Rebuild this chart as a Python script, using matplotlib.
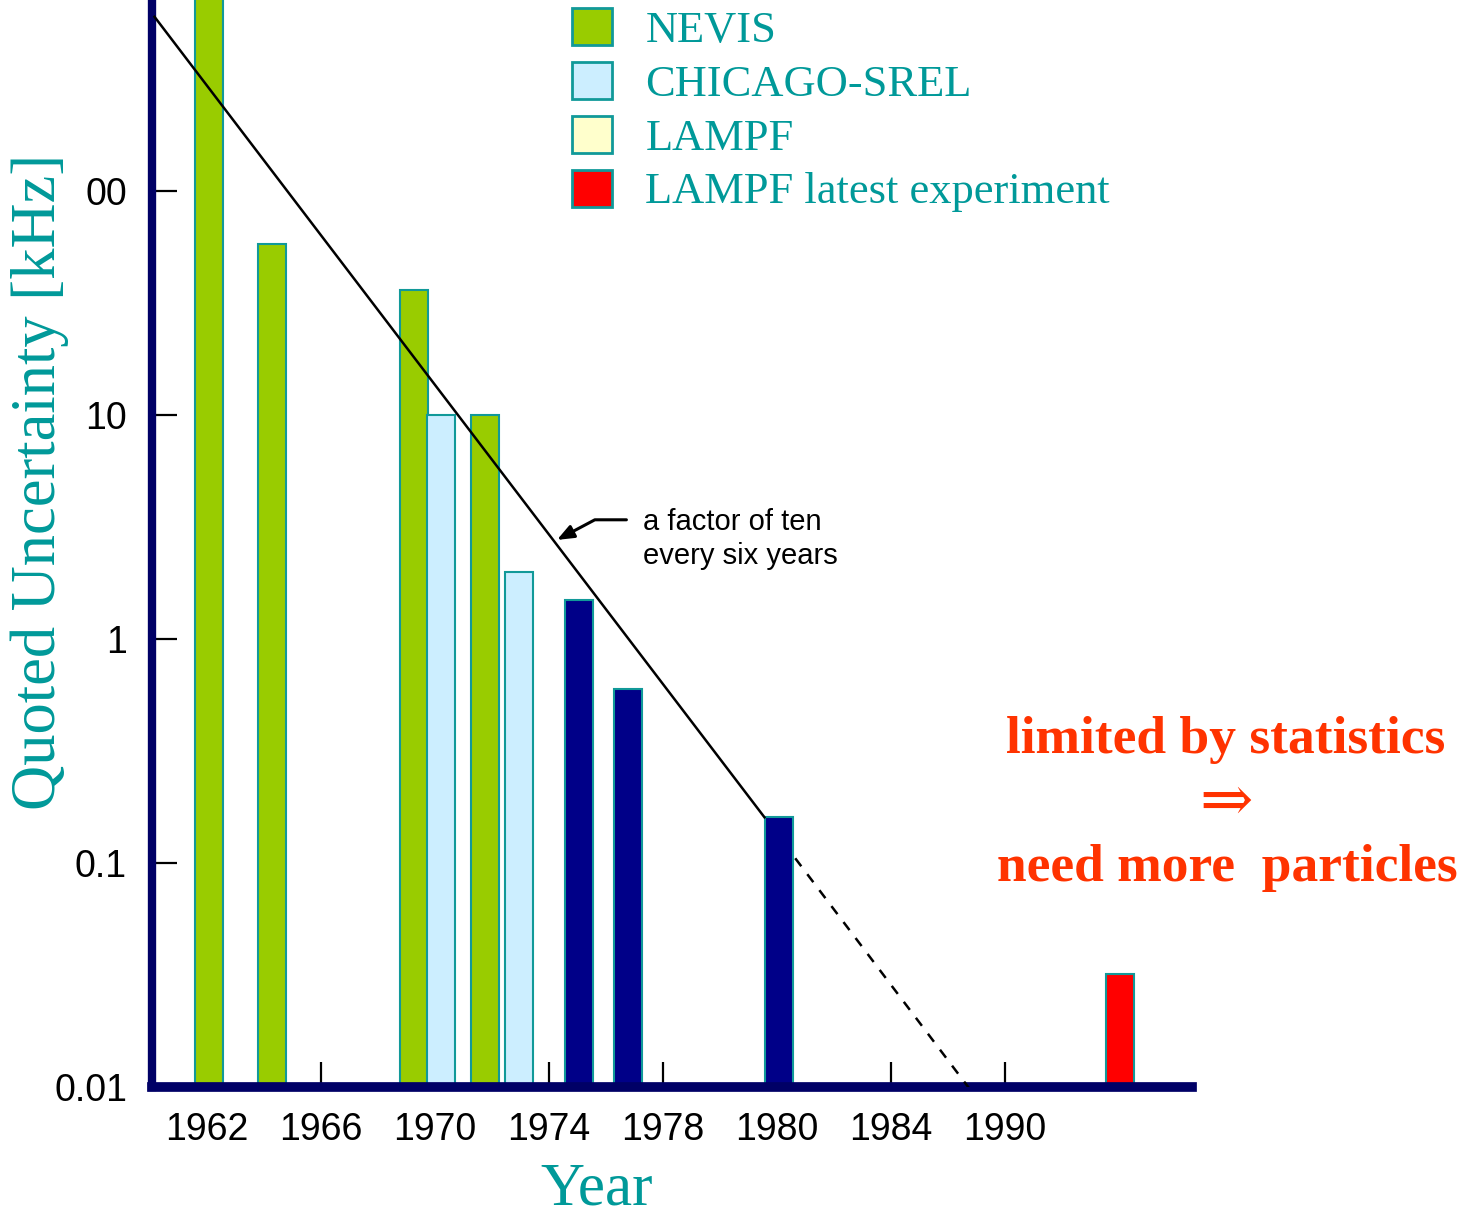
import matplotlib
matplotlib.use("Agg")
import matplotlib.pyplot as plt
from matplotlib import font_manager
from matplotlib.patches import Patch

# x axis is a slot axis: tick labels sit at evenly spaced slots, bars sit between them
year_labels = ["1962", "1966", "1970", "1974", "1978", "1980", "1984", "1990"]
year_slots = [0, 1, 2, 3, 4, 5, 6, 7]

nevis_x = [0.02, 0.57, 1.82, 2.44]
nevis_kHz = [1000, 58, 36, 10]
chicago_x = [2.05, 2.74]
chicago_kHz = [10, 2.0]
lampf_x = [3.26, 3.69, 5.02]
lampf_kHz = [1.5, 0.6, 0.16]
latest_x = [8.01]
latest_kHz = [0.032]

# "a factor of ten every six years" trend, solid then extrapolated
trend_x = [-0.46, 4.89]
trend_kHz = [600, 0.16]
extrap_x = [5.16, 6.71]
extrap_kHz = [0.105, 0.0095]

ytick_vals = [0.01, 0.1, 1, 10, 100]
ytick_labels = ["0.01", "0.1", "1", "10", "00"]   # the "1" of 100 is cut off in the scan

legend_labels = ["NEVIS", "CHICAGO-SREL", "LAMPF", "LAMPF latest experiment"]
legend_colors = ["#99cc00", "#cceeff", "#ffffcc", "#ff0000"]

TEAL = "#009999"
NAVY = "#000066"
EDGE = "#119999"

have = {f.name for f in font_manager.fontManager.ttflist}
narrow = "Liberation Sans Narrow" in have
sans_tick = "Liberation Sans Narrow" if narrow else "Liberation Sans"
tick_size = 31 if narrow else 27
serif = ["Liberation Serif", "DejaVu Serif"]

fig = plt.figure(figsize=(14.74, 12.19), dpi=100, facecolor="white")
W, H = 1474, 1219
ax = fig.add_axes([152 / W, 1 - 1087 / H, (1192 - 152) / W, 1087 / H])
ax.set_yscale("log")
ax.set_xlim(-0.482, 8.64)
ax.set_ylim(0.01, 713)
ax.set_axisbelow(True)

bw = 0.245
ax.bar(nevis_x, nevis_kHz, width=bw, color=legend_colors[0], edgecolor=EDGE, lw=1.5)
ax.bar(chicago_x, chicago_kHz, width=bw, color=legend_colors[1], edgecolor=EDGE, lw=1.5)
ax.bar(lampf_x, lampf_kHz, width=bw, color="#000088", edgecolor=EDGE, lw=1.5)
ax.bar(latest_x, latest_kHz, width=bw, color=legend_colors[3], edgecolor=EDGE, lw=1.5)

ax.plot(trend_x, trend_kHz, color="black", lw=1.8, zorder=3)
ax.plot(extrap_x, extrap_kHz, color="black", lw=1.8, dashes=(4, 4), zorder=3)

ax.annotate("", xy=(3.07, 2.77), xytext=(50, 14.5), textcoords="offset points",
            arrowprops=dict(arrowstyle="-|>,head_length=1.0,head_width=0.4", color="black", lw=2.2,
                            connectionstyle="angle,angleA=0,angleB=28,rad=0", shrinkA=0, shrinkB=0))
ax.text(3.825, 2.8, "a factor of ten\nevery six years", fontsize=21, family="Liberation Sans",
        va="center", ha="left", linespacing=1.3)

for side in ("top", "right"):
    ax.spines[side].set_visible(False)
ax.spines["left"].set_color(NAVY)
ax.spines["left"].set_linewidth(6)
ax.spines["bottom"].set_color(NAVY)
ax.spines["bottom"].set_linewidth(7)

ax.set_yticks(ytick_vals)
ax.set_yticklabels(ytick_labels)
ax.yaxis.set_minor_locator(matplotlib.ticker.NullLocator())
ax.set_xticks(year_slots)
ax.set_xticklabels(year_labels)
ax.tick_params(direction="in", length=18, width=1.6, color="black", labelsize=tick_size, pad=18)
ax.tick_params(axis="x", pad=18)
for lab in ax.get_xticklabels() + ax.get_yticklabels():
    lab.set_family(sans_tick)

fig.text(40 / W, 1 - 482 / H, "Quoted Uncertainty [kHz]", rotation=90, color=TEAL,
         fontsize=45, family=serif, ha="center", va="center")
fig.text(597 / W, 1 - 1190 / H, "Year", color=TEAL, fontsize=44, family=serif,
         ha="center", va="center")

handles = [Patch(facecolor=c, edgecolor=EDGE, lw=2) for c in legend_colors]
fig.legend(handles, legend_labels, loc="upper left", bbox_to_anchor=(572 / W, 1 - 8 / H),
           frameon=False, borderpad=0, borderaxespad=0, handlelength=0.9, handleheight=0.9,
           handletextpad=0.75, labelspacing=0.25, labelcolor=TEAL,
           prop={"family": serif, "size": 32})

red = "#ff3300"
fig.text(1226 / W, 1 - 740 / H, "limited by statistics", color=red, fontsize=38.5,
         family=serif, weight="bold", ha="center", va="center")
fig.text(1226 / W, 1 - 806 / H, "\u21d2", color=red, fontsize=46,
         family=serif, ha="center", va="center")
fig.text(1227 / W, 1 - 868 / H, "need more  particles", color=red, fontsize=38.5,
         family=serif, weight="bold", ha="center", va="center")

fig.savefig("out.png", dpi=100)
